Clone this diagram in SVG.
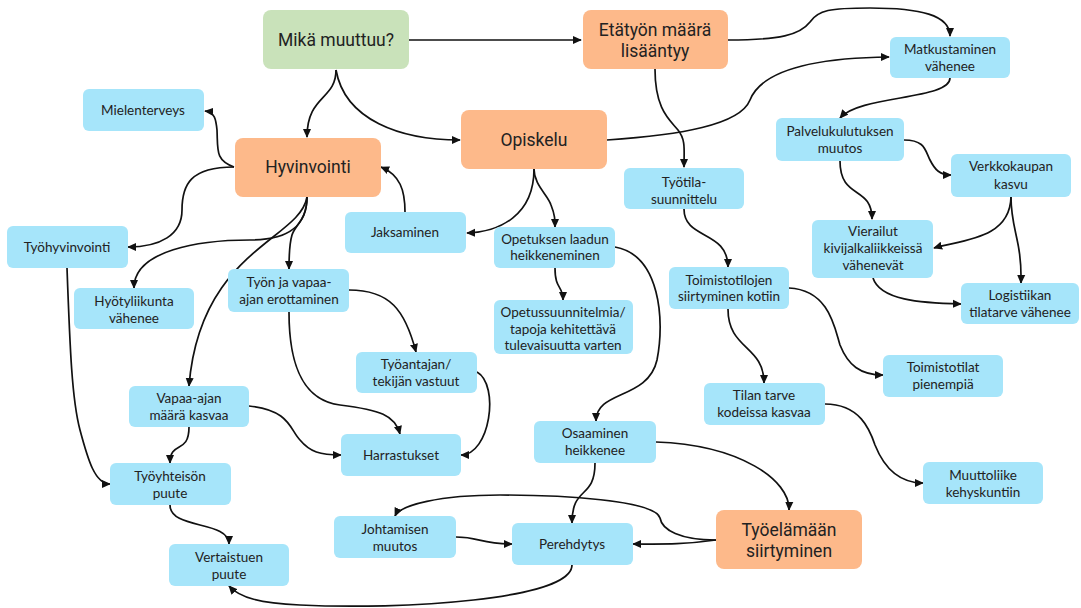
<svg xmlns="http://www.w3.org/2000/svg" width="1081" height="608" viewBox="0 0 1081 608">
<style>
.b rect{fill:#a6e5fa}
.o rect{fill:#fdb98a}
.g rect{fill:#c9e2ba}
text{font-family:Lato,"Open Sans",sans-serif;font-size:13.5px;fill:#222;text-anchor:middle}
.o text,.g text{font-family:Roboto,"Noto Sans",sans-serif;font-size:17.5px}
.c path{fill:none;stroke:#111;stroke-width:1.7;marker-end:url(#ah)}
</style>
<defs>
<marker id="ah" viewBox="0 0 10 10" refX="9" refY="5" markerWidth="9" markerHeight="9" markerUnits="userSpaceOnUse" orient="auto">
<path d="M0,0.5 L10,5 L0,9.5 Z" fill="#111"/>
</marker>
</defs>
<rect width="1081" height="608" fill="#fff"/>
<g class="c">
<path d="M409,40 L581,40"/>
<path d="M336,70 C336,100 307,95 307,137"/>
<path d="M336,70 C345,120 400,140 460,140"/>
<path d="M728,40 C780,40 800,35 810,22 C818,10 830,8 870,8 C920,8 950,15 950,36"/>
<path d="M607,140 C680,135 740,125 750,100 C760,75 800,58 889,57"/>
<path d="M655,69 C655,110 670,120 678,130 C686,140 684,150 684,167"/>
<path d="M950,78 C950,100 860,95 840,118"/>
<path d="M904,140 C925,140 925,150 930,160 C935,170 940,175 951,175"/>
<path d="M840,161 C840,200 872,185 872,219"/>
<path d="M1011,197 C1010,240 960,240 934,248"/>
<path d="M1011,197 C1011,230 1022,240 1021,283"/>
<path d="M873,278 C880,300 920,303 961,304"/>
<path d="M684,209 C684,240 728,230 728,267"/>
<path d="M789,288 C830,290 835,330 840,345 C848,365 860,375 883,375"/>
<path d="M728,309 C728,350 764,345 764,383"/>
<path d="M825,404 C860,404 870,430 875,445 C885,470 900,483 923,483"/>
<path d="M534,169 C534,215 500,232 467,233"/>
<path d="M534,169 C534,185 548,195 551,205 C555,215 555,220 555,227"/>
<path d="M555,268 C555,290 563,285 563,300"/>
<path d="M615,247 C660,255 665,320 657,360 C648,400 596,390 596,421"/>
<path d="M405,212 C405,190 400,175 381,167"/>
<path d="M234,167 C215,160 218,150 217,130 C216,120 215,112 205,111"/>
<path d="M234,167 C190,167 182,185 182,210 C182,235 160,247 128,247"/>
<path d="M307,197 C307,225 290,240 250,240 C200,240 134,250 134,288"/>
<path d="M307,197 C307,220 295,225 292,235 C289,245 289,255 289,269"/>
<path d="M307,197 C300,240 200,250 189,386"/>
<path d="M67,268 C70,350 72,400 80,430 C88,460 95,484 110,484"/>
<path d="M349,290 C390,290 405,310 416,352"/>
<path d="M289,312 C289,360 300,400 340,405 C380,410 395,415 400,434"/>
<path d="M477,372 C500,385 490,455 461,455"/>
<path d="M189,427 C189,455 170,440 170,463"/>
<path d="M249,406 C290,410 290,430 300,440 C310,452 320,455 341,455"/>
<path d="M170,505 C170,530 229,520 229,544"/>
<path d="M572,565 C572,600 400,610 300,605 C260,603 240,598 229,586"/>
<path d="M595,463 C595,500 572,485 572,523"/>
<path d="M656,442 C740,445 790,480 789,510"/>
<path d="M716,540 C680,545 660,544 633,544"/>
<path d="M716,540 C680,540 662,530 660,518 C655,500 560,495 500,495 C440,495 400,505 395,516"/>
<path d="M456,537 C480,537 480,544 512,544"/>
</g>
<g id="n1" class="g"><rect x="263" y="10" width="146" height="59" rx="8"/><text x="336" y="46">Mikä muuttuu?</text></g>
<g id="n2" class="o"><rect x="583" y="10" width="145" height="59" rx="8"/><text x="655" y="36">Etätyön määrä</text><text x="655" y="57">lisääntyy</text></g>
<g id="n3" class="b"><rect x="890" y="37" width="120" height="41" rx="6"/><text x="950" y="54">Matkustaminen</text><text x="950" y="71">vähenee</text></g>
<g id="n4" class="b"><rect x="83" y="89" width="121" height="42" rx="6"/><text x="143" y="115">Mielenterveys</text></g>
<g id="n5" class="o"><rect x="235" y="138" width="146" height="59" rx="8"/><text x="308" y="173">Hyvinvointi</text></g>
<g id="n6" class="o"><rect x="461" y="110" width="146" height="59" rx="8"/><text x="534" y="146">Opiskelu</text></g>
<g id="n7" class="b"><rect x="624" y="168" width="120" height="41" rx="6"/><text x="684" y="187">Työtila-</text><text x="684" y="204">suunnittelu</text></g>
<g id="n8" class="b"><rect x="776" y="118" width="128" height="43" rx="6"/><text x="840" y="136">Palvelukulutuksen</text><text x="840" y="153">muutos</text></g>
<g id="n9" class="b"><rect x="951" y="154" width="120" height="43" rx="6"/><text x="1011" y="171">Verkkokaupan</text><text x="1011" y="189">kasvu</text></g>
<g id="n10" class="b"><rect x="7" y="226" width="121" height="42" rx="6"/><text x="67" y="252">Työhyvinvointi</text></g>
<g id="n11" class="b"><rect x="74" y="288" width="120" height="41" rx="6"/><text x="134" y="306">Hyötyliikunta</text><text x="134" y="323">vähenee</text></g>
<g id="n12" class="b"><rect x="228" y="269" width="121" height="43" rx="6"/><text x="289" y="287">Työn ja vapaa-</text><text x="289" y="304">ajan erottaminen</text></g>
<g id="n13" class="b"><rect x="345" y="212" width="121" height="41" rx="6"/><text x="405" y="237">Jaksaminen</text></g>
<g id="n14" class="b"><rect x="494" y="227" width="121" height="41" rx="6"/><text x="555" y="244">Opetuksen laadun</text><text x="555" y="260">heikkeneminen</text></g>
<g id="n15" class="b"><rect x="494" y="300" width="139" height="54" rx="6"/><text x="563" y="317">Opetussuunnitelmia/</text><text x="563" y="334">tapoja kehitettävä</text><text x="563" y="350">tulevaisuutta varten</text></g>
<g id="n16" class="b"><rect x="356" y="352" width="121" height="41" rx="6"/><text x="416" y="369">Työantajan/</text><text x="416" y="386">tekijän vastuut</text></g>
<g id="n17" class="b"><rect x="669" y="267" width="120" height="42" rx="6"/><text x="729" y="285">Toimistotilojen</text><text x="729" y="301">siirtyminen kotiin</text></g>
<g id="n18" class="b"><rect x="812" y="220" width="121" height="58" rx="6"/><text x="873" y="236">Vierailut</text><text x="873" y="253">kivijalkaliikkeissä</text><text x="873" y="270">vähenevät</text></g>
<g id="n19" class="b"><rect x="961" y="283" width="118" height="41" rx="6"/><text x="1020" y="300">Logistiikan</text><text x="1020" y="317">tilatarve vähenee</text></g>
<g id="n20" class="b"><rect x="883" y="355" width="120" height="42" rx="6"/><text x="943" y="372">Toimistotilat</text><text x="943" y="389">pienempiä</text></g>
<g id="n21" class="b"><rect x="704" y="383" width="121" height="42" rx="6"/><text x="764" y="400">Tilan tarve</text><text x="764" y="417">kodeissa kasvaa</text></g>
<g id="n22" class="b"><rect x="129" y="386" width="120" height="41" rx="6"/><text x="189" y="403">Vapaa-ajan</text><text x="189" y="420">määrä kasvaa</text></g>
<g id="n23" class="b"><rect x="341" y="434" width="120" height="42" rx="6"/><text x="401" y="460">Harrastukset</text></g>
<g id="n24" class="b"><rect x="534" y="421" width="122" height="42" rx="6"/><text x="595" y="438">Osaaminen</text><text x="595" y="455">heikkenee</text></g>
<g id="n25" class="b"><rect x="923" y="462" width="120" height="42" rx="6"/><text x="983" y="480">Muuttoliike</text><text x="983" y="497">kehyskuntiin</text></g>
<g id="n26" class="b"><rect x="110" y="463" width="121" height="42" rx="6"/><text x="170" y="481">Työyhteisön</text><text x="170" y="498">puute</text></g>
<g id="n27" class="o"><rect x="716" y="510" width="146" height="59" rx="8"/><text x="789" y="536">Työelämään</text><text x="789" y="557">siirtyminen</text></g>
<g id="n28" class="b"><rect x="334" y="516" width="122" height="42" rx="6"/><text x="395" y="534">Johtamisen</text><text x="395" y="551">muutos</text></g>
<g id="n29" class="b"><rect x="512" y="523" width="121" height="42" rx="6"/><text x="572" y="549">Perehdytys</text></g>
<g id="n30" class="b"><rect x="169" y="544" width="120" height="42" rx="6"/><text x="229" y="562">Vertaistuen</text><text x="229" y="579">puute</text></g>
</svg>
